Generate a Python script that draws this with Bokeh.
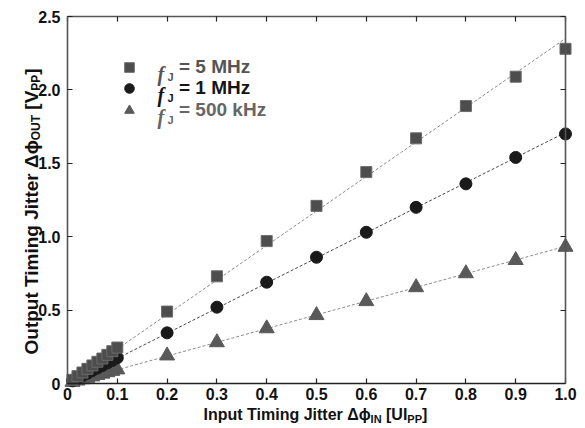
from math import pi
from bokeh.plotting import figure
from bokeh.models import Label, Legend, LegendItem, LinearAxis, FixedTicker, Range1d
from bokeh.embed import file_html
from bokeh.resources import INLINE

# ---------------- data ----------------
x_vals = [0.01, 0.02, 0.03, 0.04, 0.05, 0.06, 0.07, 0.08, 0.09, 0.10,
          0.2, 0.3, 0.4, 0.5, 0.6, 0.7, 0.8, 0.9, 1.0]
sq_vals = [0.025, 0.05, 0.075, 0.10, 0.123, 0.148, 0.17, 0.195, 0.22, 0.245,
           0.49, 0.73, 0.97, 1.21, 1.44, 1.67, 1.89, 2.09, 2.28]
ci_vals = [0.018, 0.035, 0.053, 0.07, 0.088, 0.105, 0.122, 0.14, 0.157, 0.175,
           0.345, 0.52, 0.69, 0.86, 1.03, 1.20, 1.36, 1.54, 1.70]
tr_vals = [0.01, 0.019, 0.028, 0.038, 0.047, 0.057, 0.066, 0.076, 0.085, 0.095,
           0.19, 0.28, 0.375, 0.465, 0.56, 0.655, 0.75, 0.84, 0.93]
fit_x = [0.0, 1.0]
fit_sq = [0.0, 2.35]
fit_ci = [0.0, 1.71]
fit_tr = [0.0, 0.935]
x_ticks = [0.0, 0.1, 0.2, 0.3, 0.4, 0.5, 0.6, 0.7, 0.8, 0.9, 1.0]
x_tick_labels = ["0", "0.1", "0.2", "0.3", "0.4", "0.5", "0.6", "0.7", "0.8", "0.9", "1.0"]
y_ticks = [0.0, 0.5, 1.0, 1.5, 2.0, 2.5]
y_tick_labels = ["0", "0.5", "1.0", "1.5", "2.0", "2.5"]
series_labels = ["= 5 MHz", "= 1 MHz", "= 500 kHz"]
# axis titles: (text, is_subscript); None marks a word gap
x_title = [("Input Timing Jitter Δϕ", False), ("IN", True), (None, False),
           ("[UI", False), ("PP", True), ("]", False)]
y_title = [("Output Timing Jitter Δϕ", False), ("OUT", True), (None, False),
           ("[V", False), ("PP", True), ("]", False)]

# ---------------- layout (pixels) ----------------
WIDTH, HEIGHT = 585, 428
PX_L, PX_R, PX_T, PX_B = 67, 565, 16, 383      # plot-box edges on the canvas
X0, X1 = x_ticks[0], x_ticks[-1]
Y0, Y1 = y_ticks[0], y_ticks[-1]
sx = (X1 - X0) / (PX_R - PX_L)
sy = (Y1 - Y0) / (PX_B - PX_T)
x_range = Range1d(X0 - PX_L * sx, X1 + (WIDTH - PX_R) * sx)
y_range = Range1d(Y0 - (HEIGHT - PX_B) * sy, Y1 + PX_T * sy)

W = {' ': 278, '[': 333, ']': 333, 'I': 278, 'n': 611, 'p': 611, 'u': 611, 't': 333,
     'T': 611, 'i': 278, 'm': 889, 'g': 611, 'J': 556, 'e': 556, 'r': 389, 'U': 722,
     'N': 722, 'P': 667, 'O': 778, 'V': 667, 'Δ': 612, 'ϕ': 830}


def tw(s, fs):
    return sum(W.get(c, 600) for c in s) * fs / 1000.0


FONT = "Liberation Sans"

p = figure(width=WIDTH, height=HEIGHT, output_backend="svg", toolbar_location=None,
           x_range=x_range, y_range=y_range, x_axis_location=None, y_axis_location=None,
           min_border=0, min_border_left=0, min_border_right=0, min_border_top=0,
           min_border_bottom=0)
p.xgrid.visible = False
p.ygrid.visible = False
p.outline_line_color = None
p.background_fill_color = "white"
p.border_fill_color = "white"


def make_axis(ticks, labels, loc, bounds, line_col, show_labels):
    ax = LinearAxis(ticker=FixedTicker(ticks=ticks), fixed_location=loc, bounds=bounds,
                    major_label_overrides={t: l for t, l in zip(ticks, labels)},
                    axis_line_color=line_col, axis_line_width=1.6,
                    major_tick_line_color="#222222", major_tick_line_width=1.2,
                    major_tick_in=5, major_tick_out=0, minor_tick_line_color=None,
                    major_label_text_font=FONT, major_label_text_font_style="bold",
                    major_label_text_font_size="16px", major_label_text_color="#111111")
    if not show_labels:
        ax.major_label_text_color = None
    return ax


bottom = make_axis(x_ticks, x_tick_labels, Y0, (X0, X1), "#222222", True)
bottom.major_label_standoff = 4
left = make_axis(y_ticks, y_tick_labels, X0, (Y0, Y1), "#555555", True)
left.major_label_standoff = 7
top = make_axis(x_ticks, x_tick_labels, Y1, (X0, X1), "#555555", False)
right = make_axis(y_ticks, y_tick_labels, X1, (Y0, Y1), "#555555", False)
p.add_layout(bottom, "below")
p.add_layout(left, "left")
p.add_layout(top, "above")
p.add_layout(right, "right")

# fit lines
p.line(fit_x, fit_sq, line_color="#8c8c8c", line_dash="3 2", line_width=1)
p.line(fit_x, fit_ci, line_color="#4a4a4a", line_dash="3 2", line_width=1)
p.line(fit_x, fit_tr, line_color="#8c8c8c", line_dash="3 2", line_width=1)

# markers
r_tr = p.scatter(x_vals, tr_vals, marker="triangle", size=15, fill_color="#595959",
                 line_color="#595959")
r_ci = p.scatter(x_vals, ci_vals, marker="circle", size=12, fill_color="#1a1a1a",
                 line_color="#1a1a1a")
r_sq = p.scatter(x_vals, sq_vals, marker="square", size=11, fill_color="#4d4d4d",
                 line_color="#6a6a6a")

# legend (three single-item legends so each text can have its own colour)
leg_colors = ["#555555", "#151515", "#666666"]
leg_rows = [67, 88, 110]   # canvas y (from top) of row centres
GLY = 24
for rend, lab, col, yc in zip([r_sq, r_ci, r_tr], series_labels, leg_colors, leg_rows):
    ys = HEIGHT - yc
    leg = Legend(items=[LegendItem(label=lab, renderers=[rend])],
                 location=(129 - GLY // 2, ys - GLY // 2), glyph_width=GLY, glyph_height=GLY,
                 label_standoff=38, padding=0, margin=0, spacing=0,
                 border_line_color=None, background_fill_alpha=0,
                 label_text_font=FONT, label_text_font_style="bold",
                 label_text_font_size="19px", label_text_color=col,
                 label_height=GLY, label_text_baseline="middle")
    p.add_layout(leg)
    p.add_layout(Label(x=157, y=ys - 6, x_units="screen", y_units="screen", text="f",
                       text_font="Liberation Serif", text_font_style="bold italic",
                       text_font_size="20px", text_color=col, text_baseline="alphabetic"))
    p.add_layout(Label(x=167, y=ys - 9, x_units="screen", y_units="screen", text="J",
                       text_font=FONT, text_font_style="bold",
                       text_font_size="11px", text_color=col, text_baseline="alphabetic"))

# x axis title with subscripts
MF, SF = 16, 11
xpos = 203
for txt, sub in x_title:
    if txt is None:
        xpos += tw(" ", MF)
        continue
    fs = SF if sub else MF
    p.add_layout(Label(x=xpos, y=(HEIGHT - 418) if sub else (HEIGHT - 414),
                       x_units="screen", y_units="screen",
                       text=txt, text_font=FONT, text_font_style="bold",
                       text_font_size=f"{fs}px", text_color="#111111",
                       text_baseline="alphabetic", text_align="left"))
    xpos += tw(txt, fs)

# y axis title with subscripts (rotated)
MFY, SFY = 19, 12
ypos = HEIGHT - 354
for txt, sub in y_title:
    if txt is None:
        ypos += tw(" ", MFY)
        continue
    fs = SFY if sub else MFY
    p.add_layout(Label(x=35 if sub else 31, y=ypos, x_units="screen", y_units="screen",
                       text=txt, text_font=FONT, text_font_style="bold", angle=pi / 2,
                       text_font_size=f"{fs}px", text_color="#111111",
                       text_baseline="alphabetic", text_align="left"))
    ypos += tw(txt, fs)

open("out.html", "w").write(file_html(p, INLINE))
